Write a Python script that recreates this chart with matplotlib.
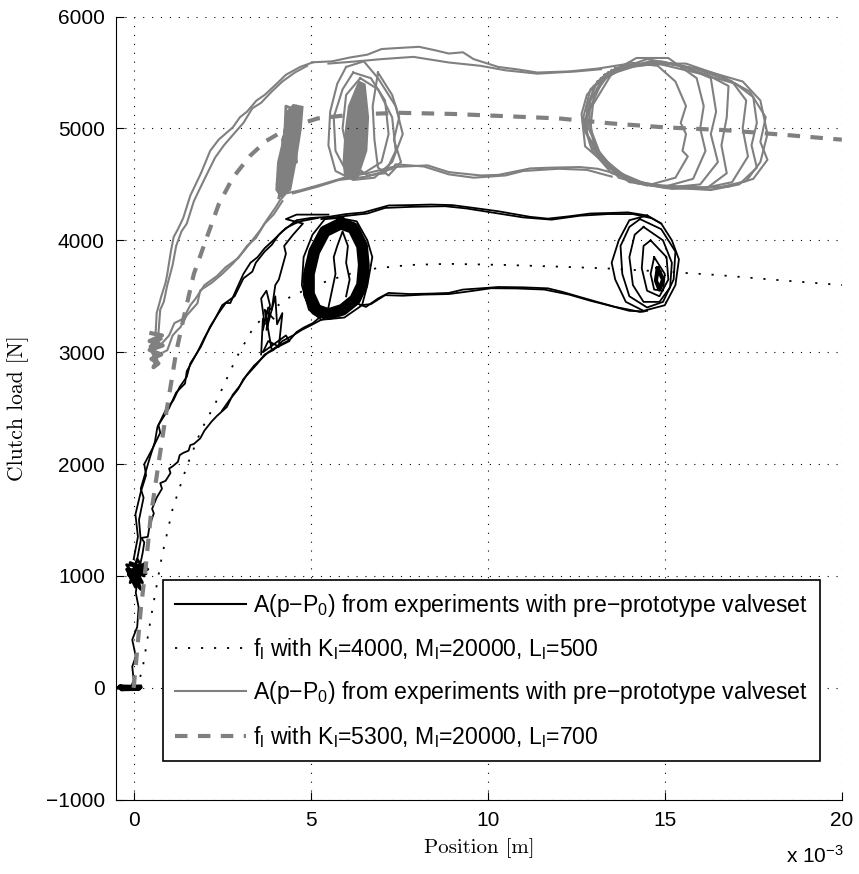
import matplotlib
matplotlib.use('Agg')
import matplotlib.pyplot as plt
from matplotlib.lines import Line2D

# positions in mm (axis shows x 10^-3 m), loads in N

# model curves f_l
dot_x = [0, 0.15, 0.25, 0.5, 0.8, 1.1, 1.5, 1.9, 2.35, 2.9, 3.4, 3.9, 4.4, 5.0, 5.5, 6.2, 6.85, 7.8, 8.9, 10.5, 12.0, 13.3, 15.0, 16.5, 18.0, 20.0]
dot_y = [0, 60, 170, 650, 1180, 1600, 1980, 2300, 2570, 2950, 3230, 3380, 3490, 3580, 3640, 3710, 3750, 3780, 3790, 3780, 3765, 3750, 3720, 3690, 3650, 3600]
dash_x = [0, 0.1, 0.2, 0.34, 0.48, 0.7, 0.9, 1.2, 1.4, 1.7, 2.07, 2.4, 2.8, 3.3, 3.75, 4.4, 5.2, 6.2, 7.5, 9.0, 10.5, 12.0, 13.5, 15.0, 16.7, 18.5, 20.0]
dash_y = [0, 340, 700, 1080, 1530, 2000, 2420, 3000, 3290, 3700, 4030, 4320, 4560, 4760, 4890, 5010, 5090, 5125, 5140, 5130, 5110, 5090, 5045, 5010, 4985, 4940, 4900]

# experiment, black (K_l=4000 case)
blk_base = [(-0.45, 0), (0.2, 10), (-0.4, 15), (0.15, -12), (-0.35, -15), (0.2, 2), (-0.3, 8), (0.1, -6), (-0.42, 5), (0.18, 14)]
blk_rise0 = [(-0.08, 0), (0.0, 70), (-0.04, 190), (0.06, 280), (-0.04, 430), (0.1, 545), (0.14, 720), (0.06, 850), (0.1, 950)]
blk_blob1 = [(0.1, 950), (-0.2, 1100), (0.35, 1080), (-0.15, 1050), (0.3, 1000), (-0.1, 1120), (0.4, 1060), (-0.05, 980),
             (0.25, 940), (0.0, 1090), (0.2, 880), (-0.15, 1010), (0.3, 1110), (0.05, 900), (-0.2, 1060), (0.35, 1020),
             (0.1, 1150), (-0.1, 940), (0.2, 1070), (0.0, 1010)]
blk_up_a = [(0.1, 1150), (0.2, 1320), (0.15, 1500), (0.28, 1700), (0.2, 1780), (0.45, 2050), (0.6, 2200), (0.67, 2330),
            (0.9, 2480), (1.12, 2570), (1.3, 2690), (1.5, 2780), (1.6, 2900), (1.9, 3050), (2.16, 3230), (2.4, 3350),
            (2.6, 3440), (2.73, 3440), (2.9, 3560), (3.1, 3700), (3.3, 3800), (3.5, 3850), (3.7, 3930), (3.94, 4000),
            (4.2, 4080), (4.4, 4130), (4.6, 4180), (5.0, 4200), (5.5, 4210)]
blk_up_b = [(0.0, 1150), (0.12, 1350), (0.05, 1550), (0.2, 1750), (0.35, 1900), (0.3, 2000), (0.55, 2150), (0.75, 2280),
            (0.7, 2350), (1.0, 2500), (1.2, 2640), (1.45, 2720), (1.5, 2830), (1.8, 3000), (2.0, 3130), (2.3, 3300),
            (2.5, 3420), (2.85, 3500), (3.1, 3660), (3.35, 3720), (3.45, 3800), (3.7, 3900), (3.9, 3960), (4.1, 4050),
            (4.3, 4110), (4.55, 4150), (4.7, 4170), (5.2, 4200)]
blk_up_c = [(3.65, 3200), (3.8, 3400), (3.9, 3380), (4.0, 3600), (4.1, 3650), (4.3, 3880), (4.25, 3950), (4.5, 4050),
            (4.78, 4150), (4.3, 4190), (4.6, 4230), (5.5, 4230)]
blk_low_a = [(0.15, 1050), (0.25, 1200), (0.3, 1300), (0.22, 1340), (0.4, 1350), (0.45, 1450), (0.57, 1560), (0.52, 1600),
             (0.65, 1700), (0.8, 1780), (0.75, 1830), (0.9, 1850), (1.04, 1920), (1.0, 1960), (1.1, 1980), (1.25, 2020),
             (1.3, 2080), (1.4, 2100), (1.55, 2120), (1.6, 2170), (1.7, 2180), (1.88, 2230), (2.0, 2300), (2.2, 2380),
             (2.35, 2430), (2.63, 2510), (2.8, 2620), (3.0, 2700), (3.2, 2800), (3.4, 2880), (3.57, 2930), (3.8, 3000),
             (4.1, 3060), (4.41, 3110), (4.6, 3180), (4.8, 3220), (5.06, 3260), (5.25, 3310), (5.6, 3360), (6.0, 3410),
             (6.28, 3440)]
blk_low_b = [(2.5, 2480), (2.7, 2570), (2.95, 2670), (3.1, 2760), (3.3, 2830), (3.5, 2900), (3.7, 2980), (3.95, 3020),
             (4.2, 3100), (4.5, 3150), (4.75, 3200), (5.0, 3240), (5.3, 3290), (5.7, 3340), (6.1, 3390)]
blk_low_right_a = [(6.28, 3440), (6.56, 3405), (6.9, 3480), (7.2, 3530), (7.8, 3520), (8.4, 3524), (8.9, 3530),
                   (9.3, 3560), (9.8, 3571), (10.3, 3583), (11.0, 3580), (11.7, 3571), (12.1, 3540), (12.6, 3494),
                   (13.1, 3449), (13.6, 3405), (14.0, 3380), (14.3, 3360), (14.5, 3370)]
blk_low_right_b = [(6.4, 3420), (6.7, 3430), (7.1, 3510), (7.6, 3505), (8.2, 3515), (8.9, 3520), (9.5, 3545),
                   (10.1, 3572), (10.8, 3570), (11.6, 3560), (12.3, 3515), (12.9, 3460), (13.4, 3420), (14.0, 3370),
                   (14.4, 3365)]
blk_top_right_a = [(5.5, 4210), (6.0, 4235), (6.5, 4250), (7.2, 4312), (7.8, 4315), (8.4, 4320), (9.0, 4315),
                   (9.6, 4290), (10.3, 4260), (11.2, 4210), (11.7, 4194), (12.3, 4215), (12.9, 4240), (13.5, 4245),
                   (13.96, 4250), (14.5, 4222), (14.9, 4150)]
blk_top_right_b = [(5.3, 4190), (5.9, 4215), (6.6, 4240), (7.1, 4290), (7.9, 4300), (8.8, 4305), (9.4, 4285),
                   (10.2, 4245), (11.0, 4205), (11.8, 4185), (12.6, 4220), (13.4, 4235), (14.1, 4235), (14.6, 4200)]
blk_ring = [(5.85, 4150), (6.2, 4110), (6.45, 3950), (6.5, 3780), (6.45, 3600), (6.25, 3470), (5.9, 3380), (5.5, 3340),
            (5.15, 3380), (4.95, 3520), (4.95, 3700), (5.1, 3900), (5.4, 4080), (5.85, 4150)]
blk_ring_edge = [(5.8, 4200), (6.3, 4170), (6.6, 4000), (6.74, 3850), (6.6, 3600), (6.45, 3420), (5.95, 3310),
                 (5.3, 3290), (4.95, 3380), (4.75, 3600), (4.8, 3850), (5.05, 4050), (5.4, 4190), (5.8, 4200)]
blk_ring_in = [(5.5, 3400), (5.6, 3550), (5.7, 3700), (5.65, 3850), (5.75, 3950), (5.9, 4080), (6.05, 3950),
               (6.0, 3800), (6.1, 3650), (6.0, 3500)]
blk_small = [(3.6, 2980), (3.65, 3300), (3.7, 3250), (3.6, 3480), (3.75, 3550), (3.85, 3420), (3.75, 3200), (4.0, 3500),
             (4.05, 3250), (4.2, 3350), (4.1, 3050), (3.8, 3100), (3.65, 3000), (4.3, 3150), (4.4, 3100), (3.9, 3020),
             (3.7, 3380), (3.95, 3300)]
blk_loops = [
    [(14.5, 4222), (14.9, 4150), (15.2, 4000), (15.4, 3830), (15.3, 3600), (15.0, 3420), (14.4, 3370), (13.9, 3450),
     (13.6, 3650), (13.5, 3800), (13.7, 4000), (14.0, 4180), (14.5, 4222)],
    [(14.3, 4190), (14.9, 4100), (15.3, 3900), (15.25, 3650), (14.95, 3450), (14.5, 3400), (14.0, 3500), (13.8, 3700),
     (13.75, 3950), (14.0, 4120), (14.3, 4190)],
    [(14.4, 4120), (14.95, 4000), (15.2, 3800), (15.15, 3580), (14.85, 3450), (14.4, 3450), (14.1, 3600), (14.0, 3850),
     (14.15, 4050), (14.4, 4120)],
    [(14.6, 4000), (15.05, 3850), (15.1, 3650), (14.85, 3500), (14.5, 3550), (14.35, 3750), (14.4, 3950), (14.6, 4000)],
    [(14.7, 3850), (15.0, 3700), (14.95, 3550), (14.7, 3560), (14.6, 3700), (14.7, 3850)],
]
blk_spot = [(14.8, 3750), (14.95, 3650), (14.85, 3560), (14.75, 3640), (14.8, 3750)]

# experiment, gray (K_l=5300 case)
gry_blob0 = [(0.5, 3170), (0.8, 3150), (0.45, 3100), (0.82, 3060), (0.45, 3020), (0.78, 2980), (0.5, 2940), (0.7, 2900),
             (0.56, 2866), (0.65, 2920), (0.48, 3050), (0.75, 3120)]
gry_up_a = [(0.62, 3170), (0.65, 3350), (0.78, 3500), (0.9, 3620), (0.95, 3700), (1.05, 3900), (1.13, 4030), (1.25, 4100),
            (1.4, 4200), (1.6, 4400), (1.75, 4500), (1.9, 4600), (2.16, 4800), (2.4, 4900), (2.8, 5010), (3.0, 5100),
            (3.2, 5150), (3.47, 5250), (3.7, 5300), (4.04, 5400), (4.3, 5480), (4.7, 5550), (5.07, 5592)]
gry_up_b = [(0.7, 3170), (0.75, 3380), (0.85, 3450), (0.95, 3600), (1.1, 3780), (1.2, 3950), (1.35, 4080), (1.5, 4150),
            (1.7, 4350), (1.85, 4450), (2.05, 4580), (2.3, 4740), (2.55, 4850), (2.85, 4960), (3.1, 5050), (3.35, 5180),
            (3.6, 5230), (3.9, 5330), (4.2, 5420), (4.55, 5500), (4.9, 5560)]
gry_low_a = [(0.84, 3000), (0.95, 3018), (1.1, 3150), (1.23, 3196), (1.32, 3223), (1.5, 3330), (1.8, 3437), (1.88, 3553),
             (2.2, 3620), (2.5, 3700), (2.8, 3792), (3.1, 3900), (3.3, 3980), (3.57, 4089), (3.8, 4200), (4.0, 4290),
             (4.13, 4357), (4.3, 4420)]
gry_low_b = [(0.8, 3080), (1.0, 3150), (1.15, 3260), (1.4, 3300), (1.6, 3420), (1.75, 3480), (2.0, 3600), (2.35, 3680),
             (2.6, 3760), (2.95, 3840), (3.2, 3950), (3.45, 4020), (3.7, 4150), (3.95, 4230), (4.2, 4350)]
gry_blob1 = [(4.2, 4400), (4.3, 5200), (4.7, 5150), (4.4, 4450), (4.05, 4500), (4.5, 5100), (4.6, 4700), (4.1, 4600),
             (4.35, 5150), (4.65, 4900), (4.15, 4450), (4.55, 5000), (4.3, 4700), (4.2, 4900), (4.6, 5200), (4.1, 4380)]
gry_blob1_core = [(4.0, 4450), (4.15, 4380), (4.45, 4450), (4.6, 4700), (4.75, 5000), (4.8, 5200), (4.5, 5220),
                  (4.3, 5150), (4.2, 4900), (4.05, 4700)]
gry_core2 = [(5.95, 4550), (6.35, 4560), (6.6, 4800), (6.65, 5100), (6.55, 5400), (6.35, 5430), (6.05, 5200),
             (5.95, 4950), (5.9, 4700)]
gry_loops2 = [
    [(6.0, 5550), (6.5, 5600), (6.9, 5450), (7.4, 5200), (7.6, 4950), (7.3, 4700), (6.8, 4560), (6.2, 4540), (5.7, 4620),
     (5.5, 4850), (5.55, 5150), (5.75, 5400), (6.0, 5550)],
    [(6.2, 5500), (6.7, 5450), (7.1, 5250), (7.2, 4950), (7.0, 4700), (6.5, 4600), (6.0, 4620), (5.7, 4800), (5.65, 5100),
     (5.9, 5350), (6.2, 5500)],
    [(6.4, 5450), (6.9, 5350), (7.3, 5100), (7.4, 4800), (7.1, 4600), (6.6, 4580), (6.1, 4700), (5.9, 5000), (6.0, 5300),
     (6.4, 5450)],
    [(6.9, 5500), (7.3, 5300), (7.5, 5100), (7.35, 4900), (7.55, 4700), (7.2, 4580), (6.9, 4650), (6.8, 4900),
     (6.75, 5200), (6.9, 5500)],
]
gry_top_a = [(5.07, 5592), (5.6, 5600), (6.1, 5634), (6.6, 5660), (7.0, 5710), (7.5, 5720), (8.06, 5730), (8.5, 5700),
             (8.9, 5670), (9.3, 5681), (9.6, 5620), (10.3, 5550), (10.8, 5530), (11.4, 5500), (12.3, 5510), (13.1, 5535),
             (14.0, 5580)]
gry_top_b = [(5.5, 5580), (6.3, 5600), (7.0, 5620), (7.9, 5640), (8.9, 5590), (9.8, 5560), (10.5, 5520), (11.4, 5490),
             (12.5, 5510), (13.2, 5530)]
gry_bot_a = [(4.3, 4420), (4.69, 4446), (5.3, 4500), (6.0, 4565), (6.6, 4600), (7.3, 4655), (8.3, 4670), (8.9, 4610),
             (9.8, 4580), (10.3, 4585), (11.2, 4643), (11.8, 4650), (12.6, 4655), (13.1, 4640), (13.6, 4598), (14.2, 4536)]
gry_bot_b = [(4.5, 4420), (5.2, 4480), (5.8, 4540), (6.6, 4570), (7.3, 4640), (7.4, 4680), (8.2, 4660), (8.9, 4590),
             (9.6, 4560), (10.5, 4580), (11.0, 4620), (12.0, 4640), (12.8, 4630), (13.5, 4570)]
gry_loops3 = [
    [(13.3, 5480), (14.0, 5590), (14.8, 5560), (15.3, 5420), (15.6, 5200), (15.45, 5050), (15.6, 4950), (15.5, 4800),
     (15.65, 4750), (15.3, 4560), (14.5, 4490), (13.7, 4560), (13.2, 4750), (12.85, 5000), (12.9, 5250), (13.3, 5480)],
    [(13.2, 5450), (14.2, 5630), (15.1, 5630), (15.9, 5450), (16.1, 5200), (16.0, 5000), (16.15, 4800), (15.8, 4550),
     (15.0, 4480), (14.0, 4520), (13.3, 4690), (12.75, 4840), (12.65, 5130), (12.8, 5300), (13.2, 5450)],
    [(13.4, 5500), (14.5, 5620), (15.5, 5560), (16.3, 5450), (16.45, 5150), (16.3, 4950), (16.5, 4700), (16.0, 4500),
     (15.0, 4470), (14.2, 4520), (13.4, 4650), (12.9, 4850), (12.7, 5100), (12.9, 5350), (13.4, 5500)],
    [(13.1, 5420), (14.0, 5560), (15.2, 5580), (16.2, 5480), (16.8, 5380), (16.75, 5100), (16.6, 4850), (16.75, 4600),
     (16.2, 4470), (15.2, 4460), (14.2, 4510), (13.3, 4700), (12.8, 4950), (12.8, 5200), (13.1, 5420)],
    [(13.5, 5520), (14.6, 5600), (15.8, 5540), (16.9, 5420), (17.3, 5250), (17.2, 5000), (17.35, 4750), (16.9, 4520),
     (16.0, 4460), (15.0, 4480), (14.0, 4540), (13.2, 4750), (12.9, 5000), (13.0, 5300), (13.5, 5520)],
    [(13.0, 5380), (13.8, 5540), (14.8, 5580), (16.0, 5490), (17.0, 5400), (17.5, 5280), (17.6, 5050), (17.45, 4850),
     (17.6, 4650), (17.1, 4500), (16.3, 4450), (15.2, 4470), (14.1, 4530), (13.2, 4720), (12.7, 5000), (13.0, 5380)],
    [(13.6, 5540), (14.9, 5600), (16.1, 5520), (17.2, 5420), (17.7, 5250), (17.9, 4950), (17.7, 4700), (17.3, 4530),
     (16.5, 4470), (15.5, 4480), (14.5, 4500), (13.6, 4620), (13.0, 4850), (12.85, 5150), (13.6, 5540)],
    [(13.3, 5470), (14.4, 5580), (15.6, 5580), (16.6, 5470), (17.4, 5330), (17.85, 5100), (17.7, 4880), (17.9, 4720),
     (17.5, 4550), (16.8, 4480), (15.8, 4470), (14.6, 4490), (13.5, 4600), (12.95, 4800), (12.7, 5050), (13.3, 5470)],
]

legend_labels = [
    'A(p\u2212P$_0$) from experiments with pre\u2212prototype valveset',
    'f$_l$ with K$_l$=4000, M$_l$=20000, L$_l$=500',
    'A(p\u2212P$_0$) from experiments with pre\u2212prototype valveset',
    'f$_l$ with K$_l$=5300, M$_l$=20000, L$_l$=700',
]

plt.rcParams['font.family'] = ['Liberation Sans', 'DejaVu Sans']
plt.rcParams['mathtext.fontset'] = 'custom'
plt.rcParams['mathtext.rm'] = 'Liberation Sans'
plt.rcParams['mathtext.it'] = 'Liberation Sans'
plt.rcParams['mathtext.default'] = 'rm'

GRAY = '#808080'


def trace(ax, pts, **kw):
    xs, ys = zip(*pts)
    ax.plot(xs, ys, **kw)


def patch(ax, pts, color):
    xs, ys = zip(*pts)
    ax.fill(xs, ys, color=color, lw=0)


fig = plt.figure(figsize=(8.59, 8.74), dpi=100)
ax = fig.add_axes([0.135, 0.085, 0.845, 0.896])

# black experiment
bk = dict(color='k', lw=1.3)
trace(ax, blk_base, color='k', lw=2.5)
trace(ax, blk_rise0, **bk)
trace(ax, blk_blob1, color='k', lw=2)
for s in (blk_up_a, blk_up_b, blk_up_c, blk_low_a, blk_low_b, blk_low_right_a, blk_low_right_b,
          blk_top_right_a, blk_top_right_b, blk_small, blk_ring_edge, blk_ring_in):
    trace(ax, s, **bk)
trace(ax, blk_ring, color='k', lw=8.5, solid_joinstyle='round')
for s in blk_loops:
    trace(ax, s, **bk)
trace(ax, blk_spot, color='k', lw=3)

# black model
ax.plot(dot_x, dot_y, color='k', lw=1.3, linestyle=(0, (1.2, 6)))

# gray experiment
gy = dict(color=GRAY, lw=1.5)
trace(ax, gry_blob0, color=GRAY, lw=3)
patch(ax, gry_blob1_core, GRAY)
trace(ax, gry_blob1, color=GRAY, lw=2)
patch(ax, gry_core2, GRAY)
for s in (gry_up_a, gry_up_b, gry_low_a, gry_low_b, gry_top_a, gry_top_b, gry_bot_a, gry_bot_b):
    trace(ax, s, **gy)
for s in gry_loops2 + gry_loops3:
    trace(ax, s, **gy)

# gray model
ax.plot(dash_x, dash_y, color=GRAY, lw=3, dashes=(3, 2.5))

ax.set_xlim(-0.5, 20)
ax.set_ylim(-1000, 6000)
ax.set_xticks([0, 5, 10, 15, 20])
ax.set_yticks(range(-1000, 6001, 1000))
ax.tick_params(direction='in', length=6, labelsize=15, width=0.8, pad=8)
ax.grid(True, color='k', linestyle=(0, (1, 7)), lw=0.8)
ax.spines['top'].set_visible(False)
ax.spines['right'].set_visible(False)
ax.set_xlabel('Position [m]', fontname='cmr10', fontsize=15, labelpad=6)
ax.set_ylabel('Clutch load [N]', fontname='cmr10', fontsize=15.5, labelpad=12)
fig.text(0.982, 0.008, 'x 10$^{-3}$', ha='right', va='bottom', fontsize=15)

handles = [
    Line2D([], [], color='k', lw=1.5),
    Line2D([], [], color='k', lw=1.3, linestyle=(0, (1.2, 6))),
    Line2D([], [], color=GRAY, lw=1.5),
    Line2D([], [], color=GRAY, lw=3, dashes=(3, 2.5)),
]
leg = ax.legend(handles, legend_labels, loc='upper left', bbox_to_anchor=(0.065, 0.28), fontsize=16.6,
                handlelength=3.1, handletextpad=0.3, labelspacing=0.75, borderpad=0.5,
                fancybox=False, framealpha=1, edgecolor='k', borderaxespad=0)
leg.get_frame().set_linewidth(1.2)

fig.savefig('out.png', dpi=100)
